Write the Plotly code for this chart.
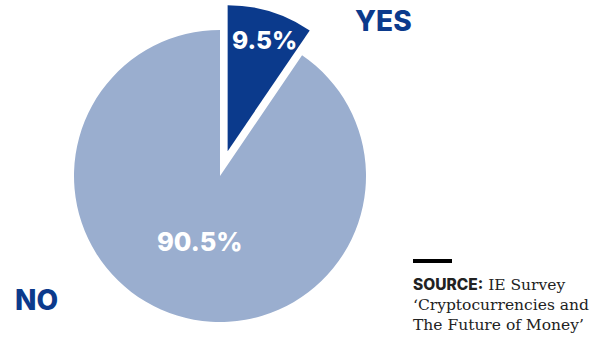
import math
import plotly.graph_objects as go

labels = ["YES", "NO"]
values = [9.5, 90.5]
pct_text = ["9.5%", "90.5%"]
colors = ["#0b3a8c", "#9aaecf"]
source_lines = ['<span style="font-family:Inter;font-weight:800">SOURCE:</span> IE Survey',
                "‘Cryptocurrencies and", "The Future of Money’"]

W, H = 591, 338
cx, cy, r = 220, 176, 146
pull_px = 26
label_frac = [0.80, 0.47]  # radial position of the percentage labels
pct_sizes = [24.5, 25.5]

total = sum(values)
starts = [sum(values[:i]) / total * 360 for i in range(len(values))]
mids = [math.radians(s + v / total * 180) for s, v in zip(starts, values)]
dx = pull_px * math.sin(mids[0])
dy = -pull_px * math.cos(mids[0])
centers = [(cx + dx, cy + dy), (cx, cy)]


def domain(px, py):
    return dict(x=[(px - r) / W, (px + r) / W],
                y=[1 - (py + r) / H, 1 - (py - r) / H])


transparent = "rgba(0,0,0,0)"
fig = go.Figure()
fig.add_trace(go.Pie(
    labels=labels, values=values, sort=False, direction="clockwise", rotation=0,
    marker=dict(colors=[transparent, colors[1]], line=dict(width=0)),
    textinfo="none", domain=domain(*centers[1]), hoverinfo="skip", showlegend=False,
))
fig.add_trace(go.Pie(
    labels=labels, values=values, sort=False, direction="clockwise", rotation=0,
    marker=dict(colors=[colors[0], transparent], line=dict(width=0)),
    textinfo="none", domain=domain(*centers[0]), hoverinfo="skip", showlegend=False,
))

for i, t in enumerate(pct_text):
    px = centers[i][0] + label_frac[i] * r * math.sin(mids[i]) + (3 if i == 0 else 0)
    py = centers[i][1] - label_frac[i] * r * math.cos(mids[i])
    fig.add_annotation(x=px / W, y=1 - py / H, xref="paper", yref="paper", text=t,
                       showarrow=False, xanchor="center", yanchor="middle",
                       font=dict(family="Inter", size=pct_sizes[i], color="white", weight=800))

label_font = dict(family="Inter", size=28, color=colors[0], weight=800)
fig.add_annotation(x=383 / W, y=1 - 21 / H, xref="paper", yref="paper", text=labels[0],
                   showarrow=False, font=label_font, xanchor="center", yanchor="middle")
fig.add_annotation(x=36 / W, y=1 - 300 / H, xref="paper", yref="paper", text=labels[1],
                   showarrow=False, font=label_font, xanchor="center", yanchor="middle")

fig.add_shape(type="line", xref="paper", yref="paper",
              x0=413 / W, x1=452 / W, y0=1 - 261 / H, y1=1 - 261 / H,
              line=dict(color="black", width=4))
fig.add_annotation(x=411 / W, y=1 - 273 / H, xref="paper", yref="paper",
                   text="<br>".join(source_lines), showarrow=False, align="left",
                   xanchor="left", yanchor="top",
                   font=dict(family="DejaVu Serif", size=15.5, color="#222222"))

fig.update_layout(width=W, height=H, margin=dict(l=0, r=0, t=0, b=0, autoexpand=False),
                  paper_bgcolor="white", plot_bgcolor="white")
fig.write_html("out.html")
